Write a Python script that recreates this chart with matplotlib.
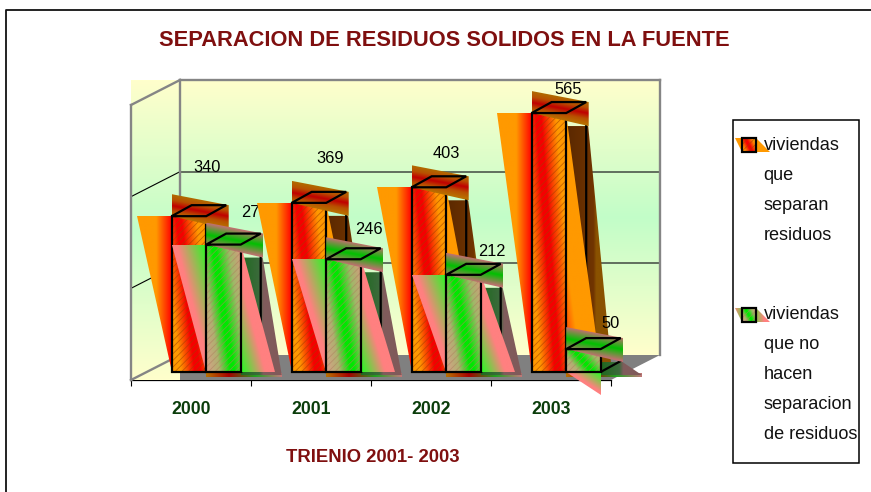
import itertools
import numpy as np
import matplotlib
matplotlib.use("Agg")
import matplotlib.pyplot as plt
from matplotlib.colors import LinearSegmentedColormap as LSC
from matplotlib.lines import Line2D
from matplotlib.patches import Polygon, Rectangle

# ---- data -------------------------------------------------------------
years = ["2000", "2001", "2002", "2003"]
separan = [340, 369, 403, 565]
no_separan = [278, 246, 212, 50]
title = "SEPARACION DE RESIDUOS SOLIDOS EN LA FUENTE"
xlabel = "TRIENIO 2001- 2003"
legend_a = ["viviendas", "que", "separan", "residuos"]
legend_b = ["viviendas", "que no", "hacen", "separacion", "de residuos"]
# manual data-label nudges (px from the bar's front-left top corner)
nudge_a = [(35.8, -49), (38.3, -44), (34.3, -34), (36.3, -24)]
nudge_b = [(48.3, -31.6), (42.8, -30), (45.8, -23), (44.8, -26)]

# ---- layout -----------------------------------------------------------
W_PX, H_PX = 871, 492
plt.rcParams["font.family"] = ["Liberation Sans"]
plt.rcParams["hatch.linewidth"] = 0.6
fig = plt.figure(figsize=(W_PX / 100, H_PX / 100), dpi=100, facecolor="white")
ax = fig.add_axes([131 / W_PX, 1 - 380 / H_PX, 480 / W_PX, 275 / H_PX])
ax.set_xlim(0, 4)
ax.set_ylim(0, 600)
ax.set_autoscale_on(False)
ax.patch.set_visible(False)
for s in ("left", "right", "top"):
    ax.spines[s].set_visible(False)
ax.spines["bottom"].set_linewidth(0.9)
ax.set_yticks([])
ax.set_xticks(range(5))
ax.set_xticklabels([])
ax.tick_params(axis="x", which="major", length=4.3, width=0.8)
ax.set_xticks(np.arange(4) + 0.5, labels=years, minor=True)
ax.tick_params(axis="x", which="minor", length=0, pad=15, labelsize=12.7, labelcolor="#0b3d0b")
for t in ax.get_xticklabels(minor=True):
    t.set_fontweight("bold")

PX, PY = 4 / 480, 600 / 275
DEPTH_WALL = (49, -25)
BAR_DX, BAR_DY = 40.7, -8
W, DX, DY = 34.5, 20, -11
z = itertools.count(5)


def P(i, v, dx=0, dy=0):
    return (i + dx * PX, v - dy * PY)


def bar(i, v, dx=0, dy=0):
    return P(i, v, BAR_DX + dx, BAR_DY + dy)


def A(px, py):
    return ((px - 131) * PX, (380 - py) * PY)


def cm(*stops):
    return LSC.from_list("c", list(stops), N=256)


def fill(verts, cmap, tfun, res=180):
    xs, ys = zip(*verts)
    U, V = np.meshgrid(np.linspace(0, 1, res), np.linspace(0, 1, res))
    im = ax.imshow(np.clip(tfun(U, V), 0, 1), extent=(min(xs), max(xs), min(ys), max(ys)),
                   origin="upper", cmap=cmap, vmin=0, vmax=1, aspect="auto",
                   interpolation="bilinear", zorder=next(z))
    im.set_clip_box(fig.bbox)
    im.set_clip_path(Polygon(verts, transform=ax.transData))


def outline(verts, lw=1.6, color="black", closed=True):
    ax.add_patch(Polygon(verts, closed=closed, fill=False, ec=color, lw=lw,
                         clip_on=False, zorder=next(z), joinstyle="miter"))


def hatch(verts, color):
    ax.add_patch(Polygon(verts, fill=False, hatch="/////", ec=color, lw=0,
                         clip_on=False, zorder=next(z)))


# ---- walls and floor --------------------------------------------------
wall = cm((0, "#FFFFCC"), (0.5, "#C2FDC8"), (1, "#FFFFCC"))
fill([A(131, 80), A(180, 80), A(180, 380), A(131, 380)], wall, lambda U, V: V)
fill([P(0, 600, *DEPTH_WALL), P(4, 600, *DEPTH_WALL), P(4, 0, *DEPTH_WALL), P(0, 0, *DEPTH_WALL)],
     wall, lambda U, V: V)
ax.add_patch(Polygon([P(0, 0, *DEPTH_WALL), P(4, 0, *DEPTH_WALL), P(4, 0), P(0, 0, DEPTH_WALL[0], 0)],
                     fc="#808080", ec="none", clip_on=False, zorder=next(z)))
for v in (200, 400):
    ax.add_line(Line2D(*zip(P(0, v, *DEPTH_WALL), P(4, v, *DEPTH_WALL)), color="#404840", lw=1.1,
                       clip_on=False, zorder=next(z)))
    ax.add_line(Line2D(*zip(P(0, v), P(0, v, *DEPTH_WALL)), color="black", lw=0.8,
                       clip_on=False, zorder=next(z)))
g = "#858585"
for a, b in [(P(0, 600), P(0, 600, *DEPTH_WALL)), (P(0, 600), P(0, 0)), (P(0, 0), P(0, 0, *DEPTH_WALL)),
             (P(0, 600, *DEPTH_WALL), P(4, 600, *DEPTH_WALL)), (P(4, 600, *DEPTH_WALL), P(4, 0, *DEPTH_WALL)),
             (P(0, 600, *DEPTH_WALL), P(0, 0, *DEPTH_WALL))]:
    ax.add_line(Line2D(*zip(a, b), color=g, lw=1.7, clip_on=False, zorder=next(z)))

# ---- colour ramps -----------------------------------------------------
styles = {
    "a": dict(
        flag=cm((0, "#b06c00"), (0.25, "#b85000"), (0.5, "#c00000"), (0.75, "#b85000"), (1, "#b87000")),
        left=cm((0, "#ff9900"), (0.55, "#ff9900"), (1, "#ff0000")),
        right=cm((0, "#ff9900"), (0.55, "#ff9900"), (1, "#ff2000")),
        side=cm((0, "#5a2800"), (0.6, "#703400"), (0.66, "#8a5200"), (1, "#8a5200")),
        front=cm((0, "#ff9900"), (0.16, "#ff9900"), (0.42, "#f50000"), (0.52, "#f50000"),
                 (0.8, "#ff9900"), (1, "#ff9900")),
        hatch="#a0400099",
        side_reach=46,
    ),
    "b": dict(
        flag=cm((0, "#c07070"), (0.5, "#00c000"), (1, "#c07070")),
        left=cm((0, "#ff8080"), (0.12, "#ff8080"), (1, "#20ff20")),
        right=cm((0, "#ff8080"), (0.3, "#ff8080"), (1, "#20ff20")),
        side=cm((0, "#1f6a1f"), (0.45, "#3c6a3c"), (0.55, "#805c5c"), (1, "#805a5a")),
        front=cm((0, "#d8a088"), (0.25, "#b0b070"), (0.45, "#00e800"), (0.53, "#00e800"),
                 (0.76, "#a0b868"), (1, "#d89880")),
        hatch="#b0806099",
        side_reach=41,
    ),
}
strip = cm((0, "#b87000"), (0.3, "#a80000"), (0.65, "#20a020"), (1, "#c07878"))


def draw_bar(i, v, off, st, is_b):
    def b(value, dx=0, dy=0):
        return bar(i, value, off + dx, dy)
    if is_b:
        fill([b(0, 0, 1), b(0, 76, 1), b(0, 76, 5), b(0, 0, 5)], strip, lambda U, V: U)
    # right side, seen through the shifted gradient pieces
    fill([b(v, W, 13), b(v, W + DX + 2, 13), b(0, W + st["side_reach"], 3), b(0, W, 3)],
         st["side"], lambda U, V: U)
    outline([b(v, W + DX, DY), b(0, W + DX, DY), b(0, W, 0)], closed=False)
    short = v < 100
    if not short:
        fill([b(v, W, 0), b(0, W, 0), b(0, 2 * W, 0)], st["right"], lambda U, V: V - U)
    if short:
        fill([b(0, 0, 0), b(0, W, 0), b(0, W, 23)], st["left"], lambda U, V: U - V)
    else:
        left = [b(v, -W, 0), b(v, 0, 0), b(0, 0, 0)]
        if is_b:
            fill(left, st["left"], lambda U, V: U - V)
        else:
            fill(left, st["left"], lambda U, V: U)
    face = [b(v), b(v, W), b(0, W), b(0)]
    fill(face, st["front"], lambda U, V: (U - 0.55 * V + 0.55) / 1.55)
    hatch(face, st["hatch"])
    outline(face)
    fill([b(v, 0, -22), b(v, 57, -11), b(v, 57, 13), b(v, 0, 0)], st["flag"],
         lambda U, V: (V - 0.31 * U) / 0.66)
    outline([b(v), b(v, W), b(v, W + DX, DY), b(v, DX, DY)])


def label(i, v, off, nudge):
    x, y = bar(i, v, off + nudge[0], nudge[1])
    ax.text(x, y, str(v), ha="center", va="center", fontsize=11.8, color="black",
            clip_on=False, zorder=next(z))


for i, (va, vb) in enumerate(zip(separan, no_separan)):
    draw_bar(i, va, 0, styles["a"], False)
    draw_bar(i, vb, W, styles["b"], True)
    label(i, va, 0, nudge_a[i])
    label(i, vb, W, nudge_b[i])


# ---- legend -----------------------------------------------------------
def fx(px):
    return px / W_PX


def fy(py):
    return 1 - py / H_PX


fig.add_artist(Rectangle((fx(733), fy(462.5)), 126 / W_PX, 343 / H_PX, transform=fig.transFigure,
                         fc="white", ec="black", lw=1.1, zorder=2))
ax.set_zorder(3)


def key(top, st):
    fill([A(735, top), A(756, top), A(770, top + 14), A(742, top + 14)], st["left"],
         lambda U, V: 1 - 2 * np.abs(U - 0.4))
    sq = [A(742, top), A(756, top), A(756, top + 14), A(742, top + 14)]
    fill(sq, st["front"], lambda U, V: (U - 0.55 * V + 0.55) / 1.55)
    hatch(sq, st["hatch"])
    outline(sq, lw=1.6)


key(138, styles["a"])
key(308, styles["b"])

for lines, start in ((legend_a, 145), (legend_b, 314.5)):
    for n, s in enumerate(lines):
        fig.text(fx(763.5), fy(start + n * 30), s, ha="left", va="center", fontsize=13.1,
                 color="#111111", zorder=5)

# ---- titles and frame -------------------------------------------------
fig.text(fx(444), fy(40.5), title, ha="center", va="center", fontsize=15.75, fontweight="bold",
         color="#7f0f0f")
fig.text(fx(373), fy(458), xlabel, ha="center", va="center", fontsize=13.3, fontweight="bold",
         color="#7f0f0f")
fig.add_artist(Line2D([fx(5.5), fx(5.5), fx(871)], [fy(492), fy(10), fy(10)], transform=fig.transFigure,
                      color="#111111", lw=1.3))

fig.savefig("out.png", dpi=100)
